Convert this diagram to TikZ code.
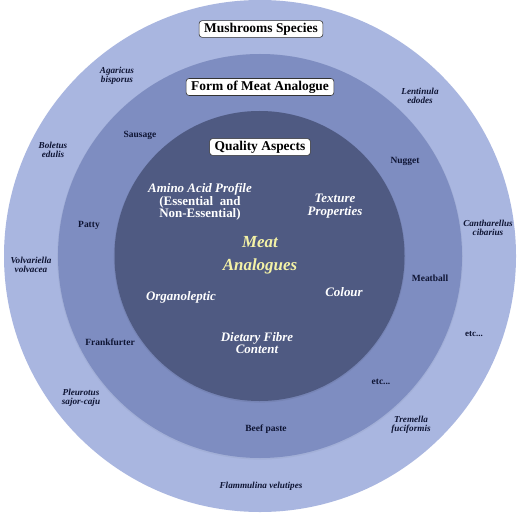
\documentclass[tikz,border=0pt]{standalone}
\usepackage{fontspec}
\setmainfont{Liberation Serif}
\definecolor{ringA}{HTML}{A9B6E0}
\definecolor{ringB}{HTML}{7E8DC1}
\definecolor{ringC}{HTML}{4F5A82}
\definecolor{navy}{HTML}{0E1433}
\definecolor{meatyellow}{HTML}{F4F2A6}
\tikzset{
  titlebox/.style={draw=black!80, line width=0.6pt, fill=white, rounded corners=3pt,
    inner xsep=5pt, inner ysep=2.3pt, font=\bfseries\fontsize{13.5}{15}\selectfont, text=black},
  formlabel/.style={font=\bfseries\fontsize{9.5}{10.5}\selectfont, text=navy, align=center},
  species/.style={font=\bfseries\itshape\fontsize{9.2}{9.3}\selectfont, text=navy, align=center},
  quality/.style={font=\bfseries\itshape\fontsize{13}{12.5}\selectfont, text=white, align=center},
  centerlabel/.style={font=\bfseries\itshape\fontsize{17}{23}\selectfont, text=meatyellow, align=center}
}
\begin{document}
\begin{tikzpicture}[x=1bp,y=-1bp]
\useasboundingbox (0,0) rectangle (520,515);
\fill[white] (0,0) rectangle (520,515);
% rings
\fill[ringA] (260,256) circle (256);
\fill[ringA!85!black, opacity=0.25] (260,256.8) circle (202.8);
\fill[ringB] (260,256) circle (202);
\fill[ringB!80!black, opacity=0.3] (259.5,256.8) circle (145.8);
\fill[ringC] (259.5,256) circle (145);
% titles
\node[titlebox] (ms) at (261,29) {Mushrooms Species};
\node[titlebox] (fm) at (260,87) {Form of Meat Analogue};
\node[titlebox] (qa) at (260,147) {Quality Aspects};
% species
\node[species] (s1) at (117,76) {Agaricus\\bisporus};
\node[species] (s2) at (420,96) {Lentinula\\edodes};
\node[species] (s3) at (53,150) {Boletus\\edulis};
\node[species] (s4) at (488,228) {Cantharellus\\cibarius};
\node[species] (s5) at (31,265) {Volvariella\\volvacea};
\node[species, font=\bfseries\fontsize{9}{9.3}\selectfont] (s6) at (474,334) {etc...};
\node[species] (s7) at (81,398) {Pleurotus\\sajor-caju};
\node[species] (s8) at (411,425) {Tremella\\fuciformis};
\node[species] (s9) at (261,486) {Flammulina velutipes};
% forms
\node[formlabel] (f1) at (140,135) {Sausage};
\node[formlabel] (f2) at (405,161) {Nugget};
\node[formlabel] (f3) at (89,225) {Patty};
\node[formlabel] (f4) at (430,278) {Meatball};
\node[formlabel] (f5) at (110,342) {Frankfurter};
\node[formlabel] (f6) at (381,382) {etc...};
\node[formlabel] (f7) at (266,429) {Beef paste};
% quality aspects
\node[quality] (q1) at (200,202) {Amino Acid Profile\\{\upshape(Essential\ \ and}\\{\upshape Non-Essential)}};
\node[quality] (q2) at (335,206) {Texture\\Properties};
\node[quality] (q3) at (181,297) {Organoleptic};
\node[quality] (q4) at (344,292) {Colour};
\node[quality] (q5) at (257,343) {Dietary Fibre\\Content};
% centre
\node[centerlabel] (c) at (260,255) {Meat\\Analogues};
\end{tikzpicture}
\end{document}
